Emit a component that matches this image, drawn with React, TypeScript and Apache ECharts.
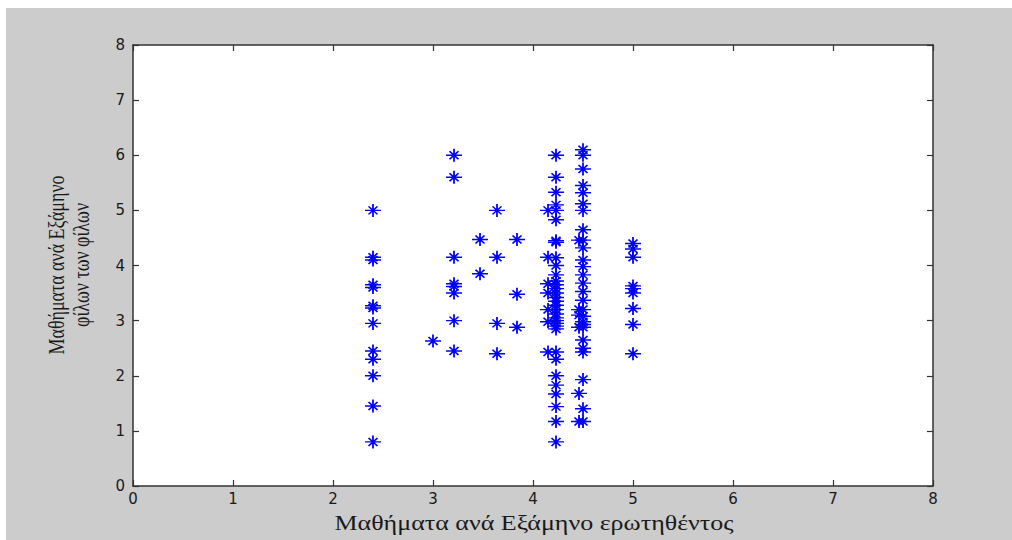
import React, { useEffect, useRef } from "react";
import * as echarts from "echarts";

const xTicks = [0, 1, 2, 3, 4, 5, 6, 7, 8];
const yTicks = [0, 1, 2, 3, 4, 5, 6, 7, 8];

const xLabel = "Μαθήματα ανά Εξάμηνο ερωτηθέντος";
const yLabel = "Μαθήματα ανά Εξάμηνο\nφίλων των φίλων";

// columns of points: x value and the y values in that column
const x240 = 2.4;
const y240 = [5.0, 4.15, 4.1, 3.65, 3.6, 3.27, 3.23, 2.95, 2.45, 2.3, 2.0, 1.45, 0.8];
const x300 = 3.0;
const y300 = [2.63];
const x321 = 3.21;
const y321 = [6.0, 5.6, 4.15, 3.67, 3.62, 3.5, 3.0, 2.45];
const x347 = 3.47;
const y347 = [4.47, 3.85];
const x364 = 3.64;
const y364 = [5.0, 4.15, 2.95, 2.4];
const x384 = 3.84;
const y384 = [4.47, 3.48, 2.88];
const x415 = 4.15;
const y415 = [5.0, 4.15, 3.67, 3.5, 3.2, 2.98, 2.43];
const x423 = 4.23;
const y423 = [6.0, 5.6, 5.33, 5.1, 5.0, 4.83, 4.45, 4.42, 4.14, 4.0, 3.83, 3.72, 3.65, 3.58, 3.5, 3.42, 3.35, 3.28, 3.2, 3.12, 3.05, 3.0, 2.95, 2.9, 2.85, 2.43, 2.3, 2.0, 1.83, 1.67, 1.44, 1.17, 0.8];
const x446 = 4.46;
const y446 = [4.46, 3.2, 3.1, 2.88, 1.68, 1.17];
const x450 = 4.5;
const y450 = [6.1, 6.0, 5.75, 5.45, 5.32, 5.12, 5.0, 4.65, 4.46, 4.32, 4.1, 3.98, 3.83, 3.68, 3.53, 3.37, 3.2, 3.08, 2.98, 2.93, 2.88, 2.65, 2.5, 2.43, 1.93, 1.4, 1.17];
const x500 = 5.0;
const y500 = [4.4, 4.3, 4.15, 3.63, 3.58, 3.5, 3.22, 2.93, 2.4];

const columns: [number, number[]][] = [
  [x240, y240], [x300, y300], [x321, y321], [x347, y347], [x364, y364],
  [x384, y384], [x415, y415], [x423, y423], [x446, y446], [x450, y450], [x500, y500],
];

const ASTERISK = "path://M0,6.5 L16,6.5 M8,0 L8,13 M3.5,2.5 L12.5,10.5 M12.5,2.5 L3.5,10.5";

export default function App() {
  const ref = useRef<HTMLDivElement>(null);
  useEffect(() => {
    if (!ref.current) return;
    const chart = echarts.init(ref.current, undefined, { renderer: "svg" });
    const data: number[][] = [];
    columns.forEach(([x, ys]) => ys.forEach((y) => data.push([x, y])));
    const axisColor = "#333333";
    const baseX = {
      type: "value" as const,
      min: 0,
      max: 8,
      interval: 1,
      splitLine: { show: false },
      axisLine: { show: true, onZero: false, lineStyle: { color: axisColor, width: 1.5 } },
      axisTick: { show: true, inside: true, length: 6, lineStyle: { color: axisColor, width: 1.2 } },
    };
    const tickFont = {
      color: "#1a1a1a",
      fontSize: 15,
      fontFamily: '"DejaVu Sans", "Liberation Sans", Arial, sans-serif',
    };
    chart.setOption({
      animation: false,
      backgroundColor: "#ffffff",
      graphic: [
        {
          type: "rect",
          z: -10,
          silent: true,
          shape: { x: 6, y: 8, width: 1006, height: 532 },
          style: { fill: "#cccccc" },
        },
        {
          type: "rect",
          z: -9,
          silent: true,
          shape: { x: 133, y: 45, width: 800, height: 441 },
          style: { fill: "#ffffff" },
        },
        {
          type: "text",
          x: 534,
          y: 523,
          scaleX: 1.3,
          style: {
            text: xLabel,
            font: '20px "Liberation Serif", "DejaVu Serif", serif',
            fill: "#1a1a1a",
            textAlign: "center",
            textVerticalAlign: "middle",
          },
        },
        {
          type: "text",
          x: 69,
          y: 265,
          rotation: Math.PI / 2,
          scaleY: 1.3,
          style: {
            text: yLabel,
            font: '18px "Liberation Serif", "DejaVu Serif", serif',
            fill: "#1a1a1a",
            textAlign: "center",
            textVerticalAlign: "middle",
            lineHeight: 19,
          },
        },
      ],
      grid: { left: 133, right: 79, top: 45, bottom: 54, containLabel: false },
      xAxis: [
        {
          ...baseX,
          position: "bottom",
          axisLabel: {
            show: true,
            ...tickFont,
            margin: 5,
            formatter: (v: number) => (xTicks.includes(v) ? String(v) : ""),
          },
        },
        { ...baseX, position: "top", axisLabel: { show: false } },
      ],
      yAxis: [
        {
          ...baseX,
          position: "left",
          axisLabel: {
            show: true,
            ...tickFont,
            margin: 8,
            formatter: (v: number) => (yTicks.includes(v) ? String(v) : ""),
          },
        },
        { ...baseX, position: "right", axisLabel: { show: false } },
      ],
      series: [
        {
          type: "scatter",
          xAxisIndex: 0,
          yAxisIndex: 0,
          data,
          symbol: ASTERISK,
          symbolSize: [16, 13],
          itemStyle: { color: "transparent", borderColor: "#0000ff", borderWidth: 1.6, opacity: 1 },
        },
      ],
    });
    return () => chart.dispose();
  }, []);
  return (
    <div
      ref={ref}
      style={{ position: "absolute", left: 0, top: 0, width: 1012, height: 540 }}
    />
  );
}
